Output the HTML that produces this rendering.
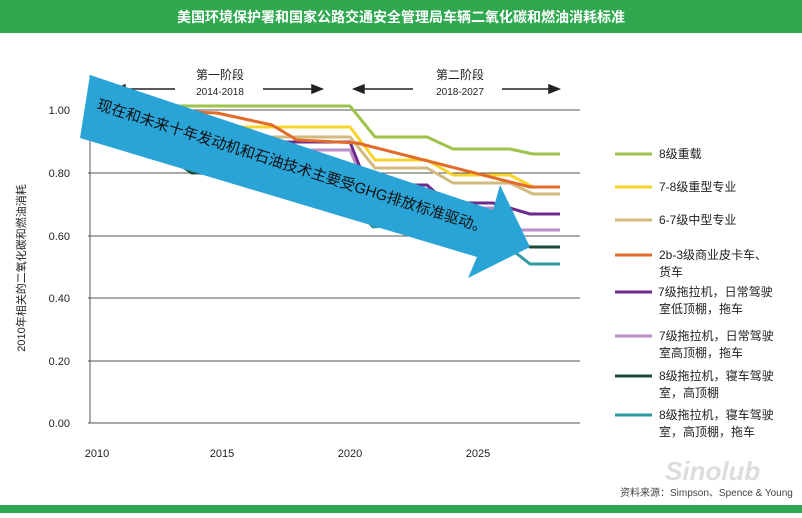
<!DOCTYPE html>
<html><head><meta charset="utf-8"><style>
body{margin:0;width:802px;height:513px;overflow:hidden;background:#fff;font-family:"Liberation Sans","Noto Sans CJK SC",sans-serif}
</style></head><body>
<svg width="802" height="513" xmlns="http://www.w3.org/2000/svg" font-family="Liberation Sans, Noto Sans CJK SC, sans-serif">
<rect x="0" y="0" width="802" height="33" fill="#2fa84f"/>
<text x="401" y="22" fill="#fff" font-size="14" font-weight="bold" text-anchor="middle">美国环境保护署和国家公路交通安全管理局车辆二氧化碳和燃油消耗标准</text>
<rect x="0" y="505" width="802" height="8" fill="#2fa84f"/>
<g stroke="#555" stroke-width="1">
<line x1="88" y1="110" x2="580" y2="110"/><line x1="88" y1="173" x2="580" y2="173"/>
<line x1="88" y1="236" x2="580" y2="236"/><line x1="88" y1="298" x2="580" y2="298"/>
<line x1="88" y1="361" x2="580" y2="361"/><line x1="88" y1="423" x2="580" y2="423"/>
<line x1="90" y1="75" x2="90" y2="423"/>
</g>
<g font-size="11" fill="#222" text-anchor="end">
<text x="70" y="114">1.00</text><text x="70" y="177">0.80</text><text x="70" y="240">0.60</text>
<text x="70" y="302">0.40</text><text x="70" y="365">0.20</text><text x="70" y="427">0.00</text>
</g>
<g font-size="11" fill="#222" text-anchor="middle">
<text x="97" y="457">2010</text><text x="222" y="457">2015</text><text x="350" y="457">2020</text><text x="478" y="457">2025</text>
</g>
<text transform="translate(25,268) rotate(-90)" font-size="11" fill="#222" text-anchor="middle">2010年相关的二氧化碳和燃油消耗</text>
<g font-size="12" fill="#222" text-anchor="middle">
<text x="220" y="79">第一阶段</text><text x="220" y="95" font-size="10">2014-2018</text>
<text x="460" y="79">第二阶段</text><text x="460" y="95" font-size="10">2018-2027</text>
</g>
<g stroke="#222" stroke-width="1.5" fill="#222">
<line x1="118" y1="89" x2="175" y2="89"/><polygon points="115,89 125,85 125,93"/>
<line x1="263" y1="89" x2="318" y2="89"/><polygon points="322,89 312,85 312,93"/>
<line x1="357" y1="89" x2="413" y2="89"/><polygon points="354,89 364,85 364,93"/>
<line x1="502" y1="89" x2="555" y2="89"/><polygon points="559,89 549,85 549,93"/>
</g>
<g fill="none" stroke-width="3" stroke-linejoin="round">
<polyline stroke="#9dc34a" points="97,106 350,106 375,137 427,137 453,149 510,149 533,154 560,154"/>
<polyline stroke="#f6d42a" points="97,110 222,127 350,127 375,160 427,160 453,175 510,175 533,187 560,187"/>
<polyline stroke="#d3ba7e" points="97,110 222,137 350,137 375,168 427,168 453,183 510,183 533,194 560,194"/>
<polyline stroke="#b98fc6" points="97,110 222,150 350,150 367,190 427,190 447,208 493,208 510,230 560,230"/>
<polyline stroke="#6b2a8c" points="97,110 222,142 350,142 367,185 427,185 447,203 493,203 530,214 560,214"/>
<polyline stroke="#2f9aa3" points="97,110 200,173 340,190 373,227 420,222 493,235 530,264 560,264"/>
<polyline stroke="#1d4a35" points="97,110 143,140 192,173 240,172 400,205 493,230 530,247 560,247"/>
<polyline stroke="#e36b2a" points="97,108 217,113 240,118 272,125 297,140 357,143 530,187 560,187"/>
</g>
<polygon points="90,75 493,210 500,185 530,247 468,278 477,257 80,138" fill="#2aa3d6"/>
<text transform="translate(96,109) rotate(17.7)" font-size="15" fill="#111">现在和未来十年发动机和石油技术主要受GHG排放标准驱动。</text>
<g stroke-width="3">
<line x1="615" y1="154" x2="652" y2="154" stroke="#9dc34a"/>
<line x1="615" y1="187" x2="652" y2="187" stroke="#f6d42a"/>
<line x1="615" y1="220" x2="652" y2="220" stroke="#d3ba7e"/>
<line x1="615" y1="255" x2="652" y2="255" stroke="#e36b2a"/>
<line x1="615" y1="292" x2="652" y2="292" stroke="#6b2a8c"/>
<line x1="615" y1="336" x2="652" y2="336" stroke="#b98fc6"/>
<line x1="615" y1="376" x2="652" y2="376" stroke="#1d4a35"/>
<line x1="615" y1="415" x2="652" y2="415" stroke="#2f9aa3"/>
</g>
<g font-size="12" fill="#222">
<text x="659" y="158">8级重载</text>
<text x="659" y="191">7-8级重型专业</text>
<text x="659" y="224">6-7级中型专业</text>
<text x="659" y="259">2b-3级商业皮卡车、</text><text x="659" y="276">货车</text>
<text x="658" y="296">7级拖拉机，日常驾驶</text><text x="659" y="313">室低顶棚，拖车</text>
<text x="659" y="340">7级拖拉机，日常驾驶</text><text x="659" y="357">室高顶棚，拖车</text>
<text x="659" y="380">8级拖拉机，寝车驾驶</text><text x="659" y="397">室，高顶棚</text>
<text x="659" y="419">8级拖拉机，寝车驾驶</text><text x="659" y="436">室，高顶棚，拖车</text>
</g>
<text x="665" y="480" font-size="26" font-style="italic" font-weight="bold" fill="#ddd">Sinolub</text>
<text x="620" y="496" font-size="10" fill="#444">资料来源：Simpson、Spence &amp; Young</text>
</svg>
</body></html>
